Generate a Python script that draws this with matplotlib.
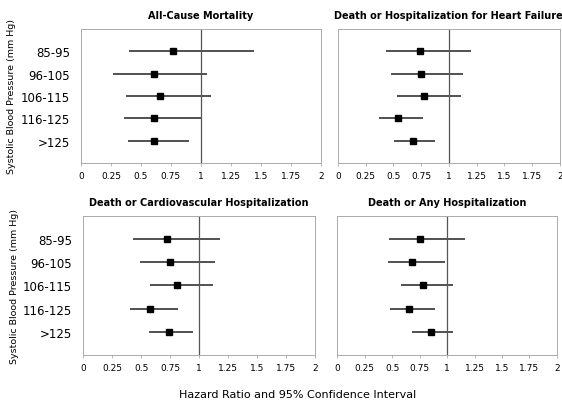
import matplotlib
matplotlib.use("Agg")
import matplotlib.pyplot as plt

# categories, top to bottom
groups = ["85-95", "96-105", "106-115", "116-125", ">125"]

titles = ["All-Cause Mortality",
          "Death or Hospitalization for Heart Failure",
          "Death or Cardiovascular Hospitalization",
          "Death or Any Hospitalization"]

# hazard ratios and 95% CI per panel (same order as groups)
hr_all = [0.77, 0.61, 0.66, 0.61, 0.61]
lo_all = [0.40, 0.27, 0.375, 0.36, 0.39]
hi_all = [1.44, 1.05, 1.08, 1.01, 0.90]

hr_hf = [0.74, 0.75, 0.78, 0.54, 0.68]
lo_hf = [0.435, 0.48, 0.53, 0.37, 0.51]
hi_hf = [1.20, 1.13, 1.11, 0.77, 0.88]

hr_cv = [0.72, 0.75, 0.81, 0.58, 0.74]
lo_cv = [0.43, 0.49, 0.58, 0.40, 0.57]
hi_cv = [1.18, 1.14, 1.12, 0.82, 0.95]

hr_any = [0.75, 0.68, 0.78, 0.65, 0.85]
lo_any = [0.47, 0.46, 0.58, 0.48, 0.68]
hi_any = [1.16, 0.98, 1.05, 0.89, 1.05]

panels = [(hr_all, lo_all, hi_all), (hr_hf, lo_hf, hi_hf),
          (hr_cv, lo_cv, hi_cv), (hr_any, lo_any, hi_any)]

xticks = [0, 0.25, 0.5, 0.75, 1, 1.25, 1.5, 1.75, 2]
xticklabels = ["0", "0.25", "0.5", "0.75", "1", "1.25", "1.5", "1.75", "2"]

fig = plt.figure(figsize=(5.62, 4.10), dpi=100)

# axes rectangles (left, bottom, width, height)
rects = [[0.144, 0.600, 0.427, 0.327],
         [0.601, 0.600, 0.395, 0.327],
         [0.148, 0.132, 0.413, 0.339],
         [0.600, 0.132, 0.391, 0.339]]

ypos = [5, 4, 3, 2, 1]

for i, (rect, title, (hr, lo, hi)) in enumerate(zip(rects, titles, panels)):
    ax = fig.add_axes(rect)
    ax.hlines(ypos, lo, hi, color="#222222", lw=1.1)
    ax.plot(hr, ypos, "s", color="black", ms=4.5)
    ax.axvline(1, color="#555555", lw=0.9)
    ax.set_xlim(0, 2)
    ax.set_ylim(0, 6)
    ax.set_xticks(xticks)
    ax.set_xticklabels(xticklabels, fontsize=6.5)
    ax.tick_params(axis="x", length=2, width=0.5, color="#999999", pad=4)
    ax.set_title(title, fontsize=7, fontweight="bold", pad=8)
    if i % 2 == 0:
        ax.set_yticks(ypos)
        ax.set_yticklabels(groups, fontsize=8.5)
        ax.tick_params(axis="y", length=0, pad=8)
        ax.set_ylabel("Systolic Blood Pressure (mm Hg)", fontsize=6.8, labelpad=3)
    else:
        ax.set_yticks([])
    for s in ax.spines.values():
        s.set_color("#aaaaaa")
        s.set_linewidth(0.7)

fig.text(0.53, 0.03, "Hazard Ratio and 95% Confidence Interval", ha="center", fontsize=8)

fig.savefig("out.png", dpi=100)
